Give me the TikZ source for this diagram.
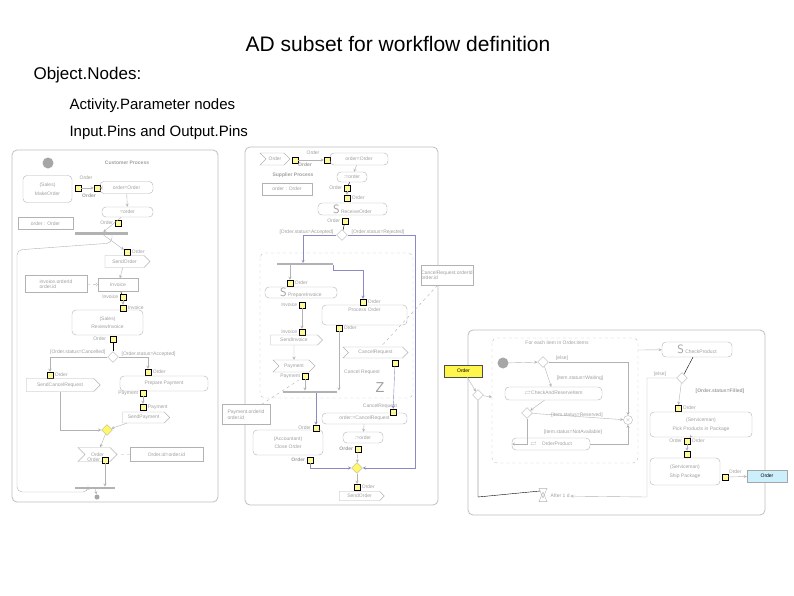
\documentclass[tikz,border=0pt]{standalone}
\usepackage{amssymb}
\usepackage{fontspec}
\setmainfont{Liberation Sans}
\usetikzlibrary{positioning, arrows, shapes.geometric, shapes.symbols}
\tikzset{
  txt/.style={text=gray!75, font=\fontsize{5}{5.5}\selectfont, inner sep=0.5pt},
  act/.style={txt, draw=gray!60, rounded corners=4pt, align=center},
  obj/.style={txt, draw=gray!60, align=center},
  note/.style={txt, draw=gray!60, align=left},
  snd/.style={txt, draw=gray!60, signal, signal to=east},
  rcv/.style={txt, draw=gray!60, signal, signal from=west},
  pin/.style={draw=black, fill=yellow!40, minimum size=6pt, inner sep=0},
  bar/.style={fill=gray!60, minimum height=2.5pt, inner sep=0},
  dec/.style={diamond, draw=gray!60, minimum size=11pt, inner sep=0},
  mrg/.style={dec, fill=yellow!60},
  lbl/.style={txt},
  blbl/.style={txt, font=\fontsize{5}{5.5}\selectfont\bfseries},
  frm/.style={draw=gray!50, rounded corners=5pt, line width=0.8pt},
  reg/.style={draw=gray!50, dashed, rounded corners=5pt},
  flow/.style={draw=gray!60, ->, >=stealth},
  cflow/.style={draw=blue!30!gray!70, ->, >=stealth},
  dsh/.style={draw=gray!60, dashed}
}
\begin{document}
\begin{tikzpicture}[x=1pt, y=-1pt]
\useasboundingbox (0,0) rectangle (794,595);
% heading
\node[font=\fontsize{21}{24}\selectfont] (ttl) at (398,44) {AD subset for workflow definition};
\node[font=\fontsize{17}{20}\selectfont, anchor=west] (on) at (30,75) {Object.Nodes:};
\node[font=\fontsize{15}{18}\selectfont, anchor=west] (b1) at (66,106) {Activity.Parameter nodes};
\node[font=\fontsize{15}{18}\selectfont, anchor=west] (b2) at (66,133) {Input.Pins and Output.Pins};

% customer process
\draw[frm] (12,150) rectangle (218,502);
\node[circle, fill=gray!70, minimum size=11pt, inner sep=0] (ini1) at (48,163) {};
\node[blbl] (cpl) at (127,163) {Customer Process};
\node[act, minimum width=49pt, minimum height=27pt] (mko) at (47.5,189) {(Sales)\\[3pt]MakeOrder};
\node[pin] (p1) at (78,188) {};
\node[pin] (p2) at (97,188) {};
\node[lbl] at (86,178) {Order};
\node[blbl] at (89,196) {Order};
\node[act, minimum width=53pt, minimum height=12pt] (oeq) at (126.5,187.5) {order=Order};
\node[act, minimum width=51pt, minimum height=10pt] (as1) at (127.5,212) {=order};
\node[obj, minimum width=55pt, minimum height=12pt] (oo1) at (45.5,223.5) {order : Order};
\node[pin] (p3) at (118,223) {};
\node[lbl, left=1pt of p3] {Order};
\node[bar, minimum width=53pt] (fk1) at (101.5,233.5) {};
\node[pin] (p4) at (127,252) {};
\node[lbl, right=1pt of p4] {Order};
\node[snd, minimum width=45pt, minimum height=12pt] (sdo) at (124.5,261.5) {SendOrder};
\node[obj, minimum width=40pt, minimum height=13pt] (inv) at (118,285) {Invoice};
\node[note, minimum width=62pt, minimum height=17pt] (nt1) at (56,284) {invoice.orderId\\order.id};
\node[pin] (p5) at (123,297) {};
\node[lbl, left=1pt of p5] {Invoice};
\node[pin] (p6) at (123,308) {};
\node[lbl, right=1pt of p6] {Invoice};
\node[act, minimum width=71pt, minimum height=25pt] (rvi) at (107.5,322.5) {(Sales)\\[3pt]ReviewInvoice};
\node[pin] (p7) at (113,339) {};
\node[lbl, left=3pt of p7] {Order};
\node[dec] (d1) at (113,357) {};
\node[lbl, anchor=east] at (106,352) {[Order.status=Cancelled]};
\node[lbl, anchor=west] at (121,354) {[Order.status=Accepted]};
\node[pin] (p8) at (50,375) {};
\node[lbl, right=1pt of p8] {Order};
\node[snd, minimum width=74pt, minimum height=13pt] (scr) at (60,385) {SendCancelRequest};
\node[pin] (p9) at (148,372) {};
\node[lbl, right=1pt of p9] {Order};
\node[act, minimum width=88pt, minimum height=15pt] (ppy) at (164,383.5) {Prepare Payment};
\node[pin] (p10) at (143,393) {};
\node[lbl, left=1pt of p10] {Payment};
\node[pin] (p11) at (143,407) {};
\node[lbl, right=1pt of p11] {Payment};
\node[snd, minimum width=47pt, minimum height=11pt] (spy) at (143.5,417.5) {SendPayment};
\node[mrg] (m1) at (107,430) {};
\node[rcv, minimum width=39pt, minimum height=14pt] (rco) at (97.5,454.5) {Order};
\node[pin] (p12) at (105,460) {};
\node[lbl, left=1pt of p12] {Order};
\node[note, minimum width=73pt, minimum height=14pt] (nt2) at (166.5,454.5) {Order.id=order.id};
\node[bar, minimum width=40pt] (jn1) at (95,488) {};
\node[circle, fill=gray!70, minimum size=5pt, inner sep=0] (fin1) at (97,497) {};

\draw[flow] (p1) -- (p2);
\draw[flow] (p2) -- (oeq);
\draw[flow] (oeq) -- (as1);
\draw[flow] (as1) -- (fk1);
\draw[flow] (fk1) -- (p4);
\draw[flow] (sdo) -- (inv);
\draw (inv) -- (p5);
\draw[flow] (p5) -- (p6);
\draw[dsh, ->] (nt1) -- (inv);
\draw (p7) -- (d1);
\draw[flow] (d1) -| (p8);
\draw[flow] (d1) -| (p9);
\draw[flow] (p10) -- (p11);
\draw[flow] (scr.south) |- (m1);
\draw[flow] (spy) -- (m1);
\draw[flow] (m1) -- (rco);
\draw[flow] (p12) -- (p12 |- jn1.north);
\draw[flow, rounded corners=5pt] (112,235) -- (112,243) -- (17,250) -- (17,492) -- (88,492) -- (88,487);
\draw[flow] (jn1) -- (fin1);
\draw[dsh] (nt2) -- (rco);

% supplier process
\draw[frm] (245,147) rectangle (438,505);
\node[rcv, minimum width=30pt, minimum height=12pt] (rc2) at (275,159) {Order};
\node[pin] (q1) at (295,160) {};
\node[blbl] at (305,165) {Order};
\node[pin] (q2) at (327,160) {};
\node[lbl] at (313,153) {Order};
\node[act, minimum width=58pt, minimum height=12pt] (oe2) at (359,159) {order=Order};
\node[blbl] at (293,175) {Supplier Process};
\node[act, minimum width=30pt, minimum height=10pt] (as2) at (352,177) {:=order};
\node[obj, minimum width=50pt, minimum height=12pt] (oo2) at (287,189) {order : Order};
\node[pin] (q3) at (347,188) {};
\node[lbl, left=1pt of q3] {Order};
\node[pin] (q4) at (347,198) {};
\node[lbl, right=1pt of q4] {Order};
\node[act, minimum width=69pt, minimum height=12pt] (rco2) at (352.5,209) {\textsf{\large S} ReceiveOrder};
\node[pin] (q5) at (345,221) {};
\node[lbl, left=1pt of q5] {Order};
\node[dec] (d2) at (342,235) {};
\node[lbl, anchor=east] at (334,232) {[Order.status=Accepted]};
\node[lbl, anchor=west] at (351,232) {[Order.status=Rejected]};
\draw[reg] (260,253) rectangle (413,398);
\node[bar, minimum width=56pt] (fk2) at (305,264) {};
\node[pin] (q6) at (290,283) {};
\node[lbl, right=1pt of q6] {Order};
\node[act, minimum width=72pt, minimum height=11pt] (pin1) at (301,292.5) {\textsf{\large S} PrepareInvoice};
\node[pin] (q7) at (302,305) {};
\node[lbl, left=1pt of q7] {Invoice};
\node[act, minimum width=85pt, minimum height=20pt] (por) at (364.5,315) {Process Order\\[6pt]};
\node[pin] (q8) at (363,302) {};
\node[lbl, right=1pt of q8] {Order};
\node[pin] (q9) at (339,328) {};
\node[lbl, right=1pt of q9] {Order};
\node[pin] (q10) at (302,332) {};
\node[lbl, left=1pt of q10] {Invoice};
\node[snd, minimum width=52pt, minimum height=10pt] (sin) at (294,340) {SendInvoice};
\node[rcv, minimum width=65pt, minimum height=11pt] (crq) at (375.5,352.5) {CancelRequest};
\node[pin] (q11) at (395,363) {};
\node[rcv, minimum width=42pt, minimum height=12pt] (pay) at (294,366) {Payment};
\node[pin] (q12) at (305,376) {};
\node[lbl, left=1pt of q12] {Payment};
\node[lbl] (crl) at (362,372) {Cancel Request};
\node[txt, font=\Large] (zz) at (380,388) {Z};
\node[bar, minimum width=54pt] (jn2) at (310,392) {};
\node[note, fill=white, minimum width=48pt, minimum height=20pt] (nt3) at (246,414.5) {Payment.orderId\\order.id};
\node[note, fill=white, minimum width=46pt, minimum height=20pt] (nt4) at (447,275) {CancelRequest.orderId\\order.id};
\node[pin] (q13) at (316,428) {};
\node[lbl, left=1pt of q13] {Order};
\node[act, minimum width=70pt, minimum height=25pt] (clo) at (288,442.5) {(Accountant)\\[3pt]Close Order};
\node[pin] (q14) at (393,412) {};
\node[lbl, above left=0pt and -8pt of q14] {CancelRequest};
\node[act, minimum width=85pt, minimum height=11pt] (ocr) at (364.5,418.5) {order:=CancelRequest};
\node[act, minimum width=40pt, minimum height=11pt] (as3) at (363,437.5) {:=order};
\node[pin] (q15) at (358,449) {};
\node[blbl, left=1pt of q15] {Order};
\node[pin] (q16) at (310,460) {};
\node[blbl, left=1pt of q16] {Order};
\node[mrg] (m2) at (357,468) {};
\node[pin] (q17) at (357,487) {};
\node[lbl, right=1pt of q17] {Order};
\node[snd, minimum width=45pt, minimum height=9pt] (sdo2) at (359.5,496) {SendOrder};

\draw[flow] (q1) -- (q2);
\draw[flow] (oe2) -- (as2);
\draw (as2) -- (q3);
\draw[flow] (q3) -- (q4);
\draw (q5) -- (d2);
\draw[cflow] (d2) -| (303,263);
\draw[cflow] (d2) -- (415,235) -- (415,468) -- (m2);
\draw[flow] (fk2.south -| q6) -- (q6);
\draw[cflow] (333,265) -- (333,270) -- (363,270) -- (q8);
\draw[flow] (q7) -- (q10);
\draw[flow] (sin) -- (pay);
\draw[flow] (q12) -- (q12 |- jn2.north);
\draw[flow] (q9) -- (q9 |- jn2.north);
\draw[cflow] (q11) -- (q14);
\draw[cflow] (jn2.south -| q13) -- (q13);
\draw[flow] (ocr) -- (as3);
\draw[cflow] (q16) |- (m2);
\draw[flow] (q15) -- (m2);
\draw[flow] (m2) -- (q17);
\draw[dsh] (nt3) -- (q12);
\draw[dsh] (nt4) -- (crq);

% fulfillment process
\draw[frm] (468,330) rectangle (765,515);
\node[draw=black!70, fill=yellow!70, minimum width=38pt, minimum height=12pt, font=\fontsize{5}{5.5}\selectfont, inner sep=0] (oy) at (463.5,371) {Order};
\node[dec] (dl) at (478,395) {};
\draw[reg] (492,338) rectangle (638,463);
\node[lbl] at (557,343) {For each item in Order.items};
\node[circle, fill=gray!70, minimum size=11pt, inner sep=0] (ini2) at (503,363) {};
\node[dec] (d3) at (543,362) {};
\node[lbl] at (562,358) {[else]};
\node[lbl] at (580,378) {[item.status=Waiting]};
\node[act, minimum width=97pt, minimum height=13pt] (car) at (553.5,393.5) {$\rightleftarrows$CheckAndReserveItem};
\node[dec] (d4) at (527,413) {};
\node[lbl] at (577,415) {[item.status=Reserved]};
\node[circle, draw=gray!60, minimum size=9pt, inner sep=0, txt] (mx) at (628,420) {$\times$};
\node[lbl] at (573,432) {[item.status=NotAvailable]};
\node[act, minimum width=78pt, minimum height=12pt] (opr) at (551,444) {$\rightleftarrows$\quad OrderProduct};
\node[act, minimum width=70pt, minimum height=15pt] (chk) at (697,349.5) {\textsf{\large S} CheckProduct};
\node[dec] (d5) at (682,378) {};
\node[lbl] at (660,374) {[else]};
\node[blbl] at (720,391) {[Order.status=Filled]};
\node[pin] (r1) at (678,408) {};
\node[lbl, right=1pt of r1] {Order};
\node[act, minimum width=102pt, minimum height=25pt] (ppk) at (701,424.5) {(Serviceman)\\[3pt]Pick Products in Package};
\node[pin] (r2) at (687,441) {};
\node[lbl, left=1pt of r2] {Order};
\node[lbl, right=1pt of r2] {Order};
\node[pin] (r3) at (687,454) {};
\node[act, minimum width=70pt, minimum height=27pt] (shp) at (685,471.5) {(Serviceman)\\[3pt]Ship Package};
\node[pin] (r4) at (725,477) {};
\node[lbl, above right=0pt and 0pt of r4] {Order};
\node[draw=gray!70, fill=cyan!20, minimum width=40pt, minimum height=12pt, font=\fontsize{5}{5.5}\selectfont, inner sep=0] (ob) at (767,476) {Order};
\node[draw=gray!60, isosceles triangle, shape border rotate=90, minimum size=8pt, inner sep=0] (hgb) at (543,499) {};
\node[draw=gray!60, isosceles triangle, shape border rotate=-90, minimum size=8pt, inner sep=0] (hgt) at (543,491) {};
\node[lbl, anchor=west] (aft) at (550,496) {After 1 d};

\draw[flow] (oy) -- (dl);
\draw[flow] (dl) -- (492,397);
\draw[flow] (ini2) -- (d3);
\draw[flow] (d3) -- (car);
\draw[flow] (d3) -- (628,362) -- (mx);
\draw[flow] (car) -- (d4);
\draw[flow] (d4) -- (mx);
\draw[flow] (d4) |- (opr);
\draw[flow] (opr) -| (mx);
\draw[flow] (638,350) -- (chk);
\draw (chk) -- (d5);
\draw[flow] (d5) -- (r1);
\draw[flow] (d5) -| (647,497) -- (aft);
\draw (hgt.west) -- (478,497) -- (dl);
\draw[flow] (ppk) -- (r2);
\draw[flow] (r2) -- (r3);
\draw[flow] (r4) -- (ob);
\end{tikzpicture}
\end{document}
